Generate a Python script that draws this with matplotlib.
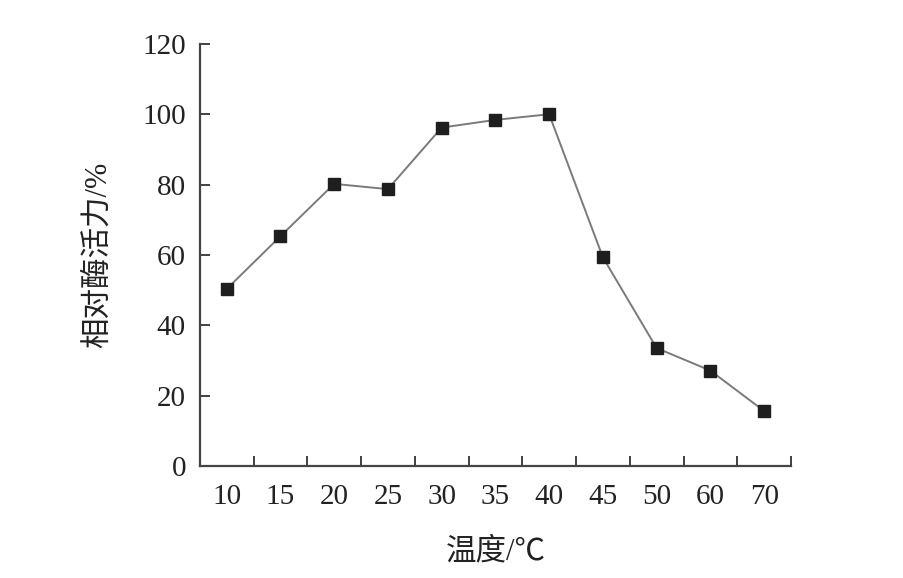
import matplotlib
matplotlib.use("Agg")
import matplotlib.pyplot as plt
import numpy as np

# data
temps = ["10", "15", "20", "25", "30", "35", "40", "45", "50", "60", "70"]
activity = [50.3, 65.3, 80.2, 78.7, 96.2, 98.4, 100.0, 59.3, 33.5, 27.1, 15.6]

yticks = [0, 20, 40, 60, 80, 100, 120]

serif = ["Liberation Serif", "Noto Sans CJK SC"]
size = 21

fig = plt.figure(figsize=(9.04, 5.78), dpi=100)
ax = fig.add_axes([0.221, 0.194, 0.654, 0.730])

x = np.arange(len(temps))
ax.plot(x, activity, color="#7a7a7a", linewidth=1.4, marker="s",
        markersize=8.5, markerfacecolor="#1e1e1e", markeredgecolor="#1e1e1e")

ax.set_xlim(-0.5, len(temps) - 0.5)
ax.set_ylim(0, 120)

# ticks sit on category boundaries, labels in the middle
ax.set_xticks(x + 0.5)
ax.set_xticklabels([])
ax.set_xticks(x, minor=True)
ax.set_xticklabels(temps, minor=True, family=serif, fontsize=size)
ax.tick_params(axis="x", which="major", direction="in", length=7, width=1.3,
               color="#333333")
ax.tick_params(axis="x", which="minor", length=0, pad=13, colors="#222222")

ax.set_yticks(yticks)
ax.set_yticklabels([str(v) for v in yticks], family=serif, fontsize=size)
ax.tick_params(axis="y", direction="in", length=7, width=1.3, pad=10,
               color="#333333", labelcolor="#222222")

for side in ["top", "right"]:
    ax.spines[side].set_visible(False)
for side in ["left", "bottom"]:
    ax.spines[side].set_linewidth(1.6)
    ax.spines[side].set_color("#444444")

ax.set_xlabel("温度/℃", family=serif, fontsize=22, labelpad=20, color="#222222")
ax.set_ylabel("相对酶活力/%", family=serif, fontsize=22, labelpad=21,
              color="#222222")

fig.savefig("out.png", dpi=100)
